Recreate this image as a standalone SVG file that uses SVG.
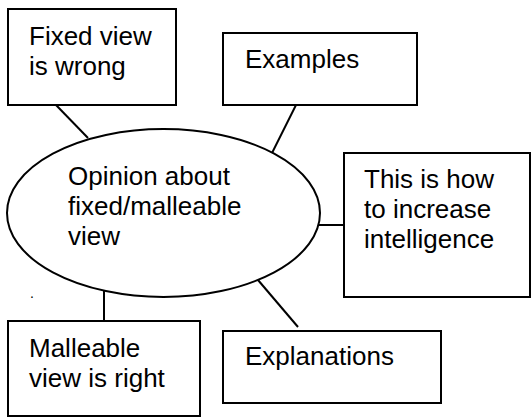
<svg xmlns="http://www.w3.org/2000/svg" width="531" height="417" viewBox="0 0 531 417">
<style>
.box{fill:#fff;stroke:#000;stroke-width:2}
.ell{fill:#fff;stroke:#000;stroke-width:2}
.lbl{font-family:"Liberation Sans",Arial,sans-serif;font-size:26px;fill:#000}
.con line{stroke:#000;stroke-width:2}
</style>
<rect width="531" height="417" fill="#fff"/>
<g id="connectors" class="con">
<line x1="56" y1="105" x2="88" y2="138"/>
<line x1="296" y1="105" x2="272" y2="153"/>
<line x1="319" y1="225" x2="344" y2="225"/>
<line x1="258" y1="280" x2="298" y2="327"/>
<line x1="104" y1="289" x2="104" y2="321"/>
</g>
<g id="center">
<ellipse class="ell" cx="163.5" cy="213" rx="156.5" ry="84"/>
<text class="lbl" x="68" y="185">Opinion about</text>
<text class="lbl" x="68" y="215">fixed/malleable</text>
<text class="lbl" x="68" y="245">view</text>
</g>
<g id="fixed">
<rect class="box" x="8" y="9" width="168" height="96"/>
<text class="lbl" x="29" y="45">Fixed view</text>
<text class="lbl" x="29" y="75">is wrong</text>
</g>
<g id="examples">
<rect class="box" x="223" y="33" width="194" height="72"/>
<text class="lbl" x="245" y="68">Examples</text>
</g>
<g id="howto">
<rect class="box" x="344" y="153" width="186" height="144"/>
<text class="lbl" x="364" y="188">This is how</text>
<text class="lbl" x="364" y="218">to increase</text>
<text class="lbl" x="364" y="248">intelligence</text>
</g>
<g id="malleable">
<rect class="box" x="8" y="321" width="192" height="95"/>
<text class="lbl" x="29" y="357">Malleable</text>
<text class="lbl" x="29" y="387">view is right</text>
</g>
<g id="explanations">
<rect class="box" x="223" y="331" width="218" height="72"/>
<text class="lbl" x="245" y="365">Explanations</text>
</g>
<text class="lbl" x="30" y="298" style="font-size:14px">.</text>
</svg>
